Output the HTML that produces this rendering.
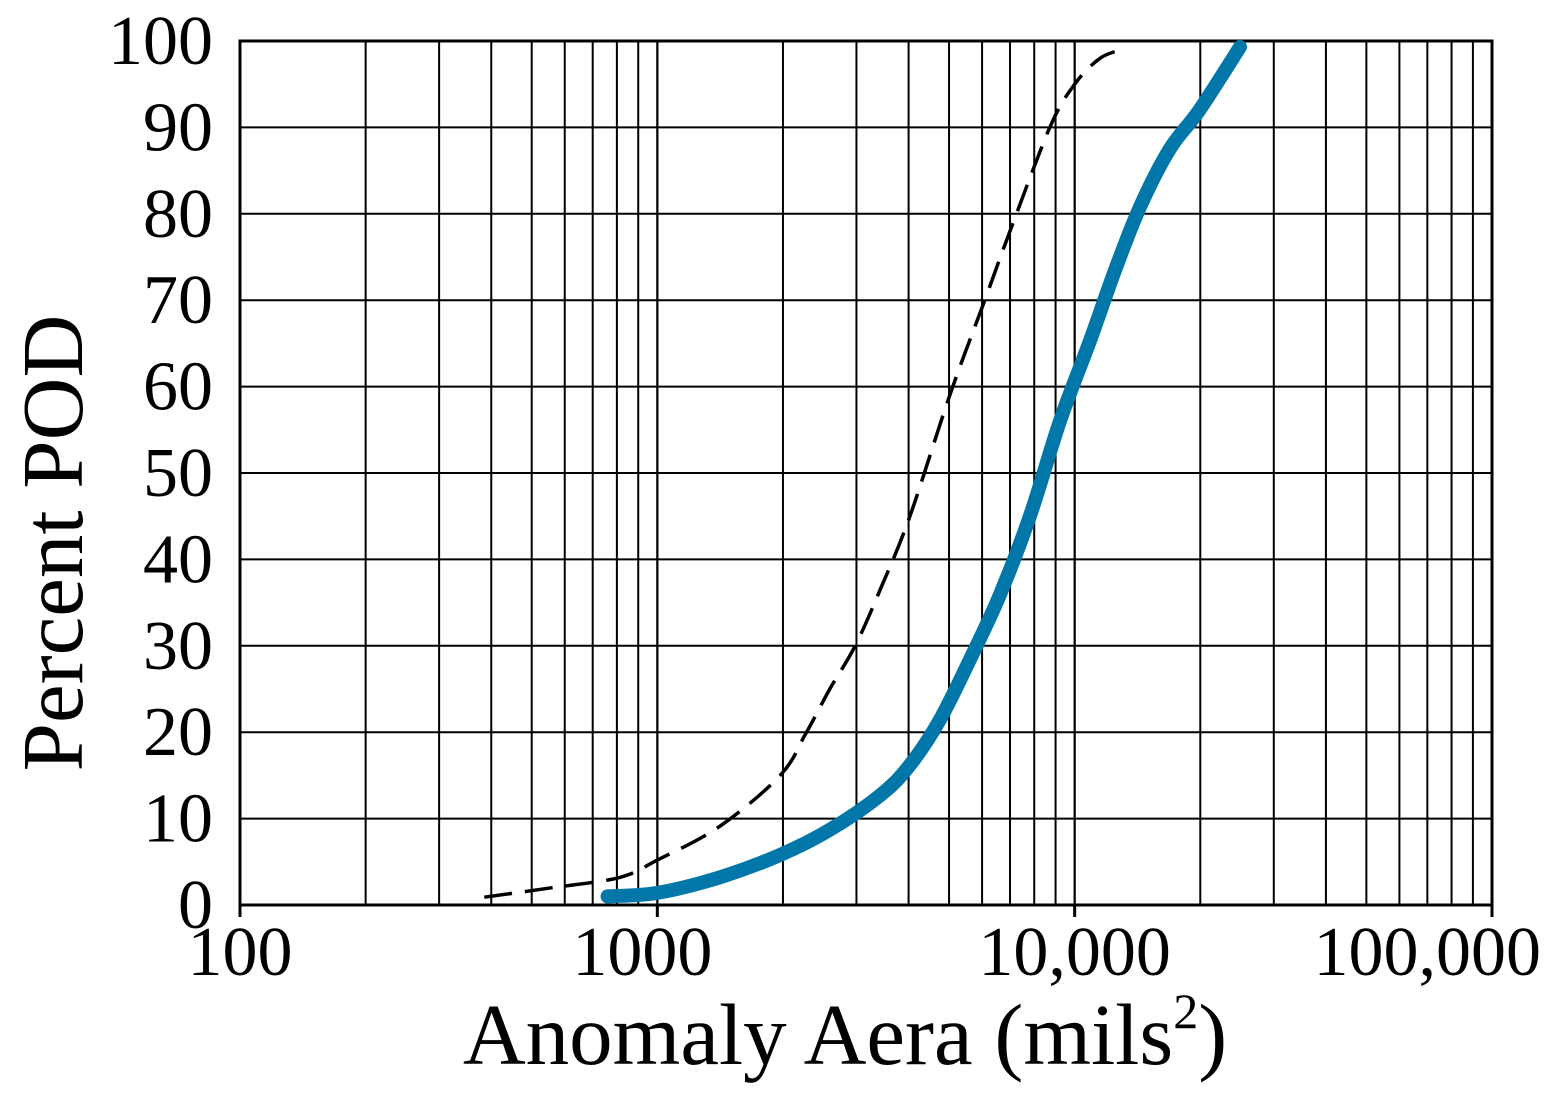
<!DOCTYPE html>
<html><head><meta charset="utf-8"><style>
html,body{margin:0;padding:0;background:#fff;}
svg{display:block;font-family:"Liberation Serif",serif;}
</style></head><body>
<svg id="chart" width="1563" height="1105"></svg>
<script>
const xTickValues=[100,1000,10000,100000];
const xTickLabels=["100","1000","10,000","100,000"];
const yTickValues=[0,10,20,30,40,50,60,70,80,90,100];
const dashedX=[385,560,813,1000,1410,1970,2260,2590,2980,3420,4030,5020,6090,7000,8720,10000,11500,13000];
const dashedY=[0.9,2,3.2,5.2,9.1,15,19.7,25,30,36.5,45,59,70,78,90,95,98,99];
const blueX=[760,1000,1410,1970,2590,3420,4030,4750,5610,6620,7810,9220,10900,12500,14400,16900,19900,24900];
const blueY=[1,1.4,3.2,5.8,8.7,12.7,16.2,21.4,28.4,35.9,45,56,65.4,73.5,81,87.5,92,99.3];

const L=240,R=1492,T=41,B=905;
const xs=v=>L+(Math.log10(v)-2)/3*(R-L);
const ys=v=>B-v/100*(B-T);
const NS="http://www.w3.org/2000/svg";
const svg=document.getElementById('chart');
function mk(tag,attrs,parent){const e=document.createElementNS(NS,tag);for(const k in attrs)e.setAttribute(k,attrs[k]);(parent||svg).appendChild(e);return e;}

const grid=mk('g',{});


for(let d=100;d<100000;d*=10){for(let m=1;m<=10;m++){const x=xs(d*m);const l=mk('line',{x1:x,x2:x,y1:T,y2:B,stroke:'#000','stroke-width':2},grid);

}}
yTickValues.forEach(v=>{const y=ys(v);const l=mk('line',{x1:L,x2:R,y1:y,y2:y,stroke:'#000','stroke-width':2},grid);


const t=mk('text',{x:L-27,y:y+23,'font-size':70,'text-anchor':'end'});t.textContent=v;

});
const ax=mk('rect',{x:L,y:T,width:R-L,height:B-T,fill:'none',stroke:'#000','stroke-width':3});


xTickValues.forEach((v,i)=>{const x=xs(v);const tk=mk('line',{x1:x,x2:x,y1:B,y2:B+12,stroke:'#000','stroke-width':3});


const last=i===xTickValues.length-1;
const t=mk('text',{x:last?1541:(i===1?x-15:x),y:B+70,'font-size':70,'text-anchor':last?'end':'middle'});t.textContent=xTickLabels[i];

});

function path(X,Y){const P=X.map((v,i)=>[xs(v),ys(Y[i])]);let d='M'+P[0][0].toFixed(1)+','+P[0][1].toFixed(1);
for(let i=0;i<P.length-1;i++){const p0=P[i-1]||P[i],p1=P[i],p2=P[i+1],p3=P[i+2]||P[i+1];
const c1=[p1[0]+(p2[0]-p0[0])/6,p1[1]+(p2[1]-p0[1])/6],c2=[p2[0]-(p3[0]-p1[0])/6,p2[1]-(p3[1]-p1[1])/6];
d+='C'+c1.map(n=>n.toFixed(1))+' '+c2.map(n=>n.toFixed(1))+' '+p2.map(n=>n.toFixed(1));}return d;}
const dl=mk('path',{d:path(dashedX,dashedY),fill:'none',stroke:'#000','stroke-width':3.5,'stroke-dasharray':'28,13'});


const bl=mk('path',{d:path(blueX,blueY),fill:'none',stroke:'#0077a8','stroke-width':14,'stroke-linecap':'round','stroke-linejoin':'round'});



const xt=mk('text',{x:845,y:1064,'font-size':87,'text-anchor':'middle'});
xt.innerHTML='Anomaly Aera (mils<tspan dy="-36" font-size="50">2</tspan><tspan dy="36">)</tspan>';


const yt=mk('text',{x:0,y:0,'font-size':87,'text-anchor':'middle',transform:'translate(82,543) rotate(-90)'});
yt.textContent='Percent POD';


</script>
</body></html>
